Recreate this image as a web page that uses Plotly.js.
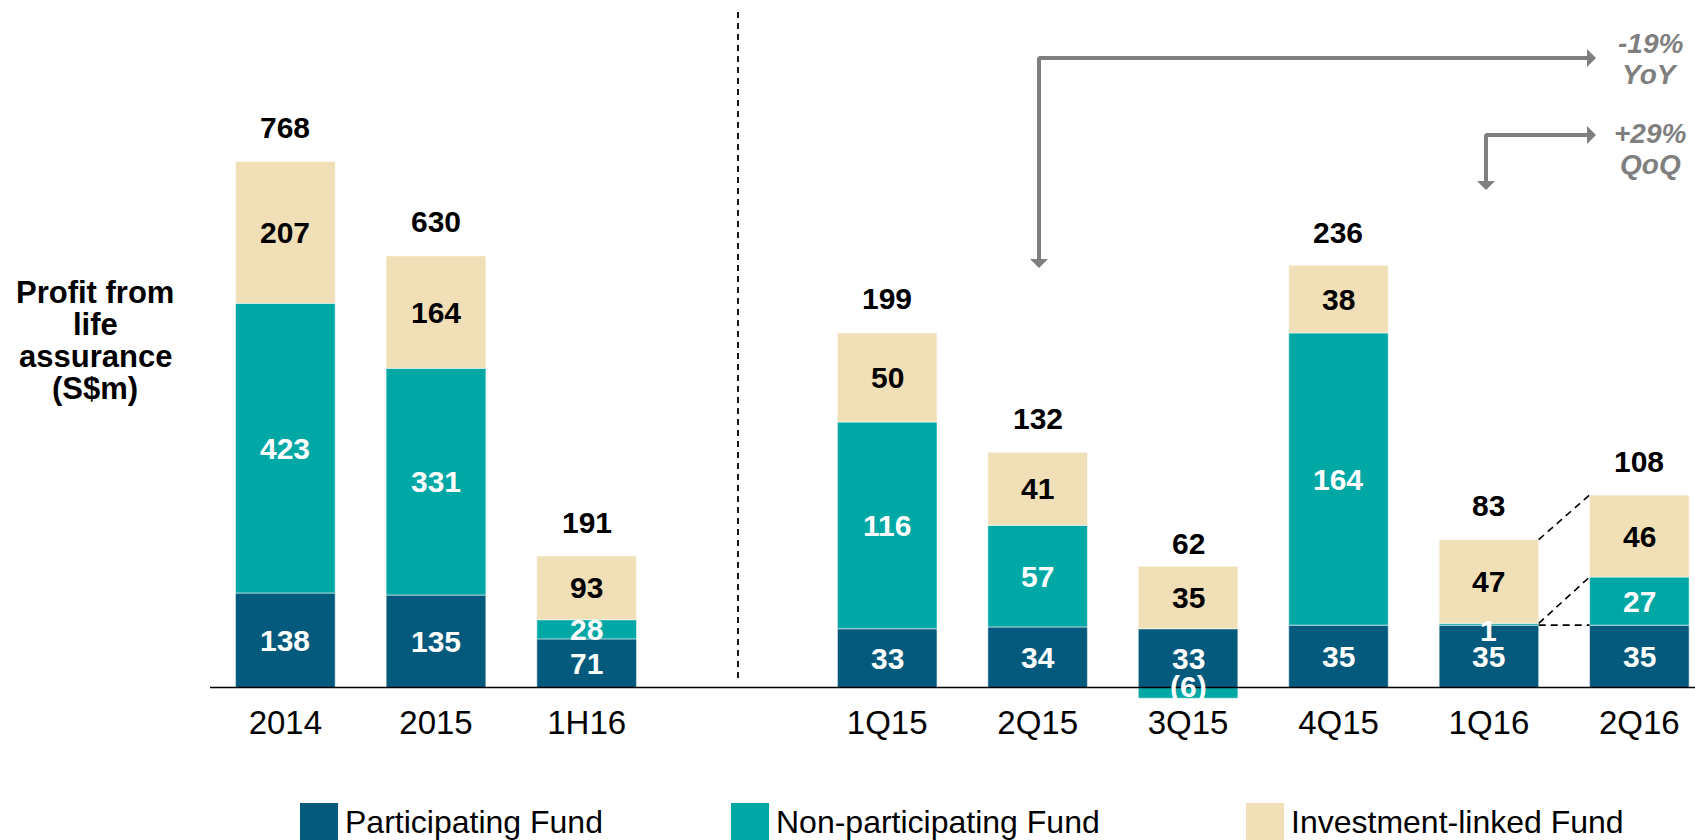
<!DOCTYPE html>
<html>
<head>
<meta charset="utf-8">
<script src="https://cdn.plot.ly/plotly-3.0.1.min.js"></script>
<style>
  html, body { margin: 0; padding: 0; background: #fff; }
  #chart { width: 1695px; height: 840px; }
</style>
</head>
<body>
<div id="chart"></div>
<script>
// Datos: beneficio de seguros de vida (S$m)
const leftCats = ['2014', '2015', '1H16'];
const leftPart = [138, 135, 71];
const leftNonPart = [423, 331, 28];
const leftInvLinked = [207, 164, 93];
const leftTotals = [768, 630, 191];

const rightCats = ['1Q15', '2Q15', '3Q15', '4Q15', '1Q16', '2Q16'];
const rightPart = [33, 34, 33, 35, 35, 35];
const rightNonPart = [116, 57, -6, 164, 1, 27];
const rightInvLinked = [50, 41, 35, 38, 47, 46];
const rightTotals = [199, 132, 62, 236, 83, 108];

const seriesNames = ['Participating Fund', 'Non-participating Fund', 'Investment-linked Fund'];
const yTitleLines = ['Profit from', 'life', 'assurance', '(S$m)'];
const yoyText = ['-19%', 'YoY'];
const qoqText = ['+29%', 'QoQ'];

// Estilos
const colors = ['#045A7D', '#00A8A5', '#F0DFB7'];
const labelColors = ['#ffffff', '#ffffff', '#000000'];
const FONT = 'Liberation Sans, Arial, sans-serif';
const W = 1695, H = 840, PLOT_H = 700;
const BARGAP = 0.338;
const arrowGray = '#7f7f7f';

// pixel -> paper
const px = x => x / W;
const py = y => (PLOT_H - y) / PLOT_H;

const fmt = v => (v < 0 ? `(${-v})` : `${v}`);

function barTraces(cats, series, xa, ya) {
  return series.map((vals, i) => ({
    type: 'bar',
    x: cats,
    y: vals,
    xaxis: xa,
    yaxis: ya,
    name: seriesNames[i],
    showlegend: false,
    marker: { color: colors[i], line: { color: 'rgba(255,255,255,0.55)', width: 1 } },
  }));
}

// etiquetas centradas en cada segmento (apilado relativo); x por índice de categoría
function segmentLabels(cats, series, xa, ya) {
  const out = [];
  cats.forEach((c, j) => {
    let pos = 0, neg = 0;
    series.forEach((vals, i) => {
      const v = vals[j];
      let mid;
      if (v >= 0) { mid = pos + v / 2; pos += v; } else { mid = neg + v / 2; neg += v; }
      out.push({
        x: j, y: mid, xref: xa, yref: ya, xanchor: 'center', yanchor: 'middle',
        text: `<b>${fmt(v)}</b>`, showarrow: false,
        font: { family: FONT, size: 30, color: labelColors[i] },
        yshift: v < 0 ? 6 : (Math.abs(v) < 3 ? -6 : 0),
      });
    });
  });
  return out;
}

function totalLabels(cats, totals, xa, ya) {
  return cats.map((c, j) => ({
    x: j, y: totals[j], xref: xa, yref: ya, xanchor: 'center', yanchor: 'middle',
    text: `<b>${totals[j]}</b>`, showarrow: false,
    yshift: 34, font: { family: FONT, size: 30, color: '#000' },
  }));
}

const leftSeries = [leftPart, leftNonPart, leftInvLinked];
const rightSeries = [rightPart, rightNonPart, rightInvLinked];

const data = [
  ...barTraces(leftCats, leftSeries, 'x', 'y'),
  ...barTraces(rightCats, rightSeries, 'x2', 'y2'),
];

// líneas punteadas entre 1Q16 y 2Q16
const hw = (1 - BARGAP) / 2;
const connectors = [];
let topA = 0, topB = 0;
rightSeries.forEach(vals => {
  topA += vals[4]; topB += vals[5];
  connectors.push({
    type: 'line', xref: 'x2', yref: 'y2',
    x0: 4 + hw, x1: 5 - hw, y0: topA, y1: topB,
    line: { color: '#000', width: 1.6, dash: '7px,5px' },
  });
});

const shapes = [
  // línea base continua
  { type: 'line', xref: 'paper', yref: 'y', x0: px(210), x1: 1, y0: 0, y1: 0, line: { color: '#000', width: 1.5 } },
  // separador vertical
  { type: 'line', xref: 'paper', yref: 'paper', x0: px(738), x1: px(738), y0: py(678), y1: py(11),
    line: { color: '#000', width: 1.8, dash: '6px,5px' } },
  ...connectors,
];

// leyenda manual (cuadros grandes)
const legendX = [300, 731, 1246];
const legendAnn = [];
seriesNames.forEach((name, i) => {
  shapes.push({
    type: 'rect', xref: 'paper', yref: 'paper',
    x0: px(legendX[i]), x1: px(legendX[i] + 38), y0: py(803), y1: py(845),
    fillcolor: colors[i], line: { width: 0 },
  });
  legendAnn.push({
    xref: 'paper', yref: 'paper', x: px(legendX[i] + 43), y: py(822),
    xanchor: 'left', yanchor: 'middle', text: name, showarrow: false,
    font: { family: FONT, size: 32, color: '#000' },
  });
});

// flechas YoY / QoQ
const arrowBase = {
  xref: 'paper', yref: 'paper', axref: 'pixel', ayref: 'pixel', text: '', showarrow: true,
  arrowhead: 1, arrowsize: 0.75, arrowwidth: 4, arrowcolor: arrowGray, standoff: 0,
};
const arrows = [
  { ...arrowBase, x: px(1039), y: py(268), ax: 0, ay: 56 - 268 },
  { ...arrowBase, x: px(1596), y: py(58), ax: 1037 - 1596, ay: 0 },
  { ...arrowBase, x: px(1486), y: py(190), ax: 0, ay: 133 - 190 },
  { ...arrowBase, x: px(1596), y: py(135), ax: 1484 - 1596, ay: 0 },
];

// textos de variación, una línea por anotación para controlar el interlineado
function stackedText(lines, cx, cy, gap, size, color, italic) {
  return lines.map((t, k) => ({
    xref: 'paper', yref: 'paper', x: px(cx), y: py(cy + (k - (lines.length - 1) / 2) * gap),
    xanchor: 'center', yanchor: 'middle', showarrow: false,
    text: italic ? `<b><i>${t}</i></b>` : `<b>${t}</b>`,
    font: { family: FONT, size, color },
  }));
}

const tickFont = { family: FONT, size: 33, color: '#000' };
const hiddenY = { showgrid: false, zeroline: false, showticklabels: false, showline: false, fixedrange: true };

const layout = {
  width: W,
  height: H,
  autosize: false,
  margin: { l: 0, r: 0, t: 0, b: H - PLOT_H },
  paper_bgcolor: '#fff',
  plot_bgcolor: 'rgba(0,0,0,0)',
  barmode: 'relative',
  bargap: BARGAP,
  showlegend: false,
  font: { family: FONT },
  xaxis: {
    domain: [px(210), px(662)], range: [-0.5, 2.5], type: 'category',
    showgrid: false, zeroline: false, showline: false, ticks: '', tickfont: tickFont, anchor: 'y',
  },
  xaxis2: {
    domain: [px(812), 1], range: [-0.5, 5.37], type: 'category',
    showgrid: false, zeroline: false, showline: false, ticks: '', tickfont: tickFont, anchor: 'y2',
  },
  yaxis: { ...hiddenY, range: [-18.2, 1003.6], anchor: 'x' },
  yaxis2: { ...hiddenY, range: [-7.0, 385.8], anchor: 'x2' },
  shapes,
  annotations: [
    ...segmentLabels(leftCats, leftSeries, 'x', 'y'),
    ...segmentLabels(rightCats, rightSeries, 'x2', 'y2'),
    ...totalLabels(leftCats, leftTotals, 'x', 'y'),
    ...totalLabels(rightCats, rightTotals, 'x2', 'y2'),
    ...legendAnn,
    ...arrows,
    ...stackedText(yoyText, 1650, 59, 31, 28, arrowGray, true),
    ...stackedText(qoqText, 1650, 149, 31, 28, arrowGray, true),
    ...stackedText(yTitleLines, 95, 340, 32, 31, '#000', false),
  ],
};

Plotly.newPlot('chart', data, layout, { displayModeBar: false, staticPlot: true });
</script>
</body>
</html>
